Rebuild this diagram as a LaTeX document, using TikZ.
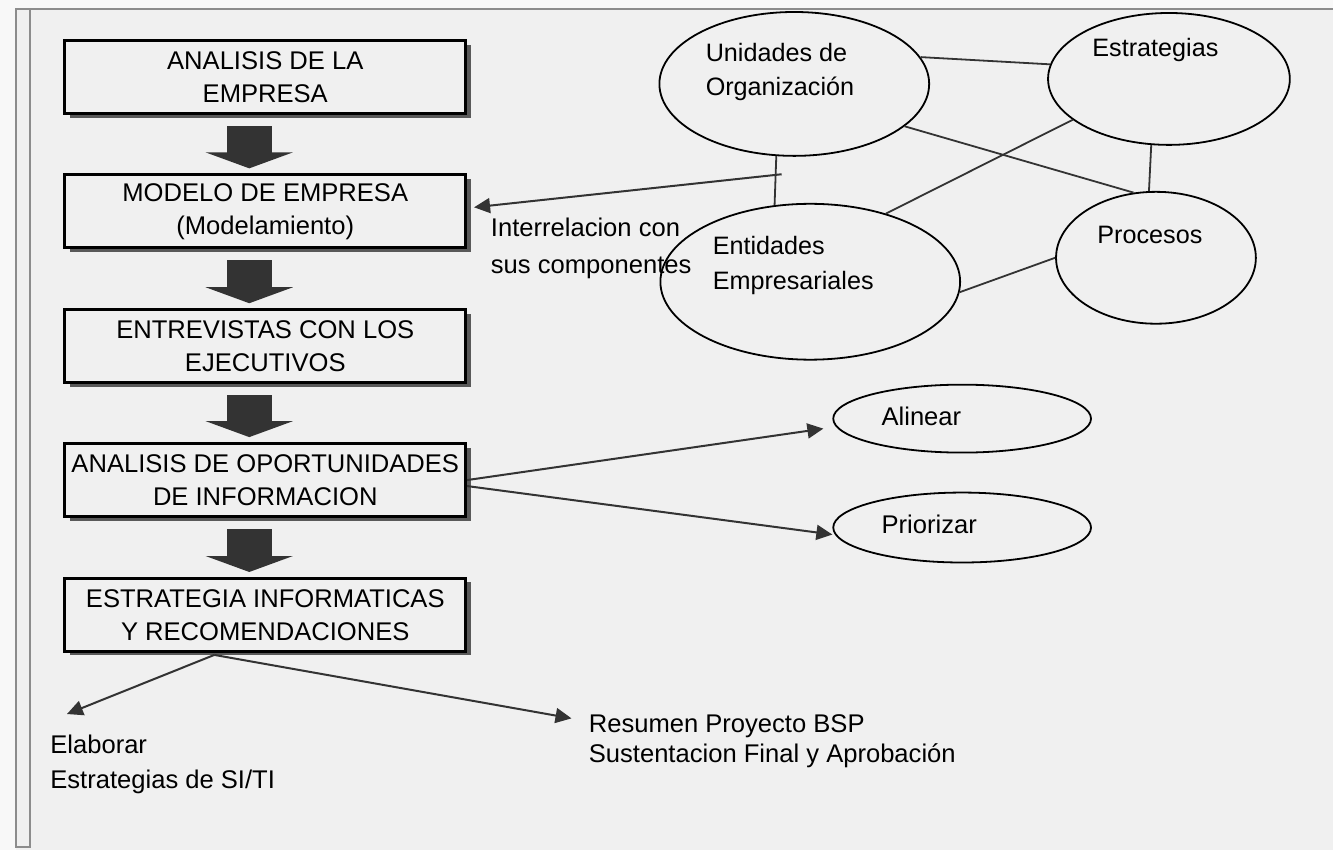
\documentclass[tikz,border=0pt]{standalone}
\usepackage{fontspec}
\setmainfont{Liberation Sans}
\usetikzlibrary{shapes.geometric,shadows,arrows.meta}
\definecolor{paper}{HTML}{F0F0F0}
\definecolor{outside}{HTML}{F8F8F8}
\definecolor{ink}{HTML}{333333}
\begin{document}
\begin{tikzpicture}[x=0.5pt,y=-0.5pt,
	font=\fontsize{12.8}{16.5}\selectfont,
	stage/.style={draw=black,line width=1.5pt,fill=paper,minimum width=200.5pt,minimum height=36.5pt,
		inner sep=1pt,align=center,drop shadow={shadow xshift=2.5pt,shadow yshift=-2pt,fill=black!65,opacity=1}},
	part/.style={ellipse,draw=black,line width=0.9pt,inner sep=0pt},
	txt/.style={inner sep=0pt,anchor=west,align=left},
	link/.style={draw=ink,line width=0.9pt},
	flow/.style={draw=ink,line width=1pt,-{Triangle[length=8pt,width=7.5pt]}},
	bigflow/.style={draw=ink,line width=22.5pt,-{Triangle[length=8pt,width=43.5pt]}}]

	% page and frame
	\fill[outside] (0,0) rectangle (1334,851);
	\fill[paper] (16,9) rectangle (1334,851);
	\draw[black!45,line width=1.2pt] (1334,9) -- (16,9) -- (16,848) -- (30,848) -- (30,9);

	% stages
	\node [stage](s1) at (265.5,77.5) {ANALISIS DE LA\\EMPRESA};
	\node [stage](s2) at (265.5,211.5) {MODELO DE EMPRESA\\(Modelamiento)};
	\node [stage](s3) at (265.5,346.5) {ENTREVISTAS CON LOS\\EJECUTIVOS};
	\node [stage](s4) at (265.5,480.5) {ANALISIS DE OPORTUNIDADES\\DE INFORMACION};
	\node [stage](s5) at (265.5,615.5) {ESTRATEGIA INFORMATICAS\\Y RECOMENDACIONES};

	\foreach \a/\b in {s1/s2,s2/s3,s3/s4,s4/s5}
		\draw [bigflow] ([xshift=-8pt,yshift=-5.5pt]\a.south) -- ([xshift=-8pt,yshift=2.5pt]\b.north);

	% components
	\node [part,minimum width=135pt,minimum height=72pt](unid) at (795,84) {};
	\node [part,minimum width=121pt,minimum height=66pt](estr) at (1170,79) {};
	\node [part,minimum width=150pt,minimum height=78pt](ent) at (811,282) {};
	\node [part,minimum width=100pt,minimum height=66pt](proc) at (1157,258) {};
	\node [txt,font=\fontsize{12.6}{17}\selectfont](unidtxt) at (706,72) {Unidades de\\Organización};
	\node [txt,font=\fontsize{12.6}{17}\selectfont](estrtxt) at (1093,50) {Estrategias};
	\node [txt,font=\fontsize{12.6}{17.5}\selectfont](enttxt) at (713,265.5) {Entidades\\Empresariales};
	\node [txt,font=\fontsize{12.6}{17}\selectfont](proctxt) at (1098,235) {Procesos};

	\draw [link] (unid.12) -- (estr.173);
	\draw [link] (unid.-21) -- (proc.109);
	\draw [link] (estr.-105) -- (proc.96);
	\draw [link] (estr.203) -- (ent.42);
	\draw [link] (unid.256) -- coordinate[pos=0.37](rel) (ent.115);
	\draw [link] (ent.-4) -- (proc.180);

	\node [txt,font=\fontsize{12.8}{18.5}\selectfont](inter) at (491,248.5) {Interrelacion con\\sus componentes};
	\draw [flow] ([xshift=3pt]rel) -- ([xshift=3.5pt,yshift=2pt]s2.east);

	% alternatives
	\node [part,minimum width=129pt,minimum height=34pt](alin) at (963,419) {};
	\node [part,minimum width=129pt,minimum height=35pt](prio) at (963,528) {};
	\node [txt](alintxt) at (882,417) {Alinear};
	\node [txt](priotxt) at (882,525) {Priorizar};
	\draw [flow] (s4.east) -- ([xshift=-4.5pt,yshift=-5pt]alin.west);
	\draw [flow] ([yshift=-3pt]s4.east) -- ([yshift=-3.5pt]prio.west);

	% results
	\node [txt,font=\fontsize{12.8}{17.5}\selectfont](elab) at (50,765.5) {Elaborar\\Estrategias de SI/TI};
	\node [txt,font=\fontsize{12.8}{15}\selectfont](res) at (589,742) {Resumen Proyecto BSP\\Sustentacion Final y Aprobación};
	\draw [flow] ([xshift=-25.5pt,yshift=-1pt]s5.south) -- ([shift={(8.5pt,10.5pt)}]elab.north west);
	\draw [flow] ([xshift=-25.5pt,yshift=-1pt]s5.south) -- ([shift={(-8.5pt,-2pt)}]res.north west);
\end{tikzpicture}
\end{document}
